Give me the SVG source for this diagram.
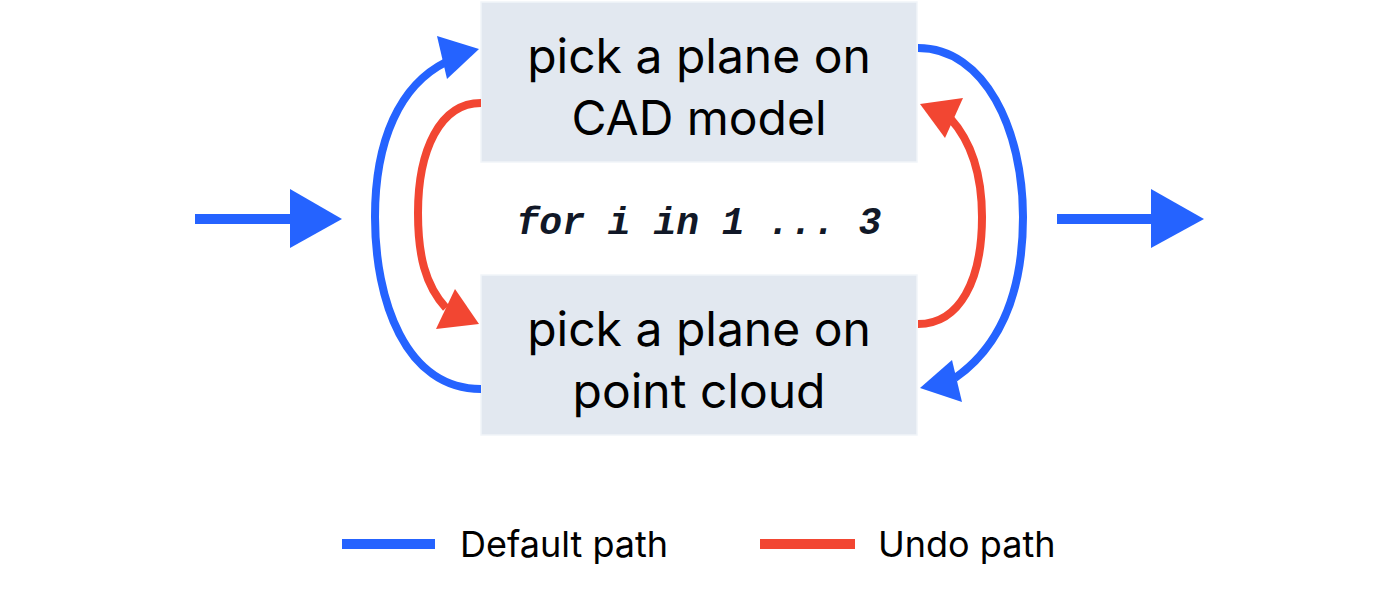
<svg xmlns="http://www.w3.org/2000/svg" width="1400" height="609" viewBox="0 0 1400 609">
<style>
.box{fill:#e2e8f0;stroke:#f1f5f9;stroke-width:1.5}
.lbl{font-family:Inter,"Noto Sans",sans-serif;font-size:48px;fill:#000;text-anchor:middle}
.code{font-family:"Liberation Mono","DejaVu Sans Mono",monospace;font-weight:bold;font-style:italic;font-size:38px;fill:#111827;text-anchor:middle}
.blue{stroke:#2563ff;fill:none;stroke-width:8}
.red{stroke:#f24632;fill:none;stroke-width:8}
.bh{fill:#2563ff}
.rh{fill:#f24632}
.leg{font-family:Inter,"Noto Sans",sans-serif;font-size:36px;fill:#000}
</style>
<rect width="1400" height="609" fill="#fff"/>
<g id="node-cad">
<rect class="box" x="481" y="2" width="436" height="160"/>
<text class="lbl" x="699" y="73">pick a plane on</text>
<text class="lbl" x="699" y="135">CAD model</text>
</g>
<g id="node-cloud">
<rect class="box" x="481" y="275" width="436" height="160"/>
<text class="lbl" x="699" y="346">pick a plane on</text>
<text class="lbl" x="699" y="408">point cloud</text>
</g>
<g id="loop-label">
<text class="code" x="699" y="234">for i in 1 ... 3</text>
</g>
<g id="connectors">
<line x1="195" y1="219" x2="292" y2="219" stroke="#2563ff" stroke-width="10"/>
<polygon class="bh" points="290,189 342,219 290,248"/>
<line x1="1057" y1="219" x2="1152" y2="219" stroke="#2563ff" stroke-width="10"/>
<polygon class="bh" points="1151,189 1204,219 1151,248"/>
<path class="blue" d="M481,389 C405,389 375,300 375,217 C375,140 400,85 446,62"/>
<polygon class="bh" points="437,36 479,49 447,79"/>
<path class="red" d="M481,103 C440,103 418,150 418,213 C418,255 425,285 446,308"/>
<polygon class="rh" points="455,289 479,324 436,329"/>
<path class="blue" d="M918,48 C985,48 1023,130 1023,217 C1023,300 995,350 955,378"/>
<polygon class="bh" points="952,360 920,388 962,402"/>
<path class="red" d="M918,324 C960,324 982,280 982,217 C982,170 970,140 950,118"/>
<polygon class="rh" points="963,98 920,104 945,138"/>
</g>
<g id="legend">
<line x1="342" y1="544" x2="435" y2="544" stroke="#2563ff" stroke-width="10"/>
<text class="leg" x="460" y="557">Default path</text>
<line x1="760" y1="544" x2="855" y2="544" stroke="#f24632" stroke-width="10"/>
<text class="leg" x="878" y="557">Undo path</text>
</g>
</svg>
